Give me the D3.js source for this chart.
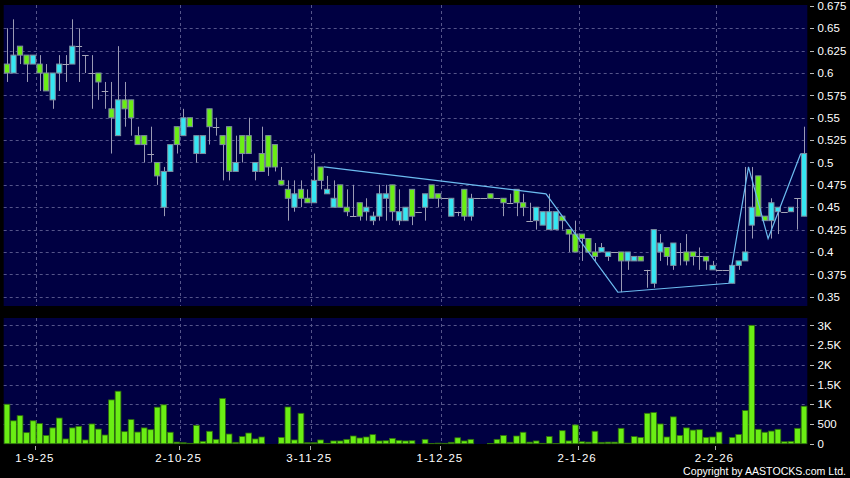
<!DOCTYPE html>
<html>
<head>
<meta charset="utf-8">
<script src="https://cdn.jsdelivr.net/npm/d3@7"></script>
<style>
html, body { margin: 0; padding: 0; background: #000; }
svg { display: block; }
text { font-family: "Liberation Sans", Arial, sans-serif; fill: #fff; }
</style>
</head>
<body>
<script>
// daily prices, oldest first (one entry per trading day)
const openP = [
  .61, .60, .63, .62, .61, .61, .60, .57, .60, .61,
  .61, .63, .62, .60, .60, .58, .56, .53, .57, .57,
  .53, .53, .51, .50, .45, .49, .54, .53, .55, .51,
  .51, .56, .54, .53, .54, .49, .53, .53, .49, .51,
  .53, .52, .48, .47, .45, .47, .46, .455, .495, .465,
  .45, .475, .45, .44, .455, .445, .435, .44, .46, .475,
  .435, .435, .47, .445, .45, .475, .465, .46, .44, .445,
  .47, .44, .46, .46, .465, .46, .46, .455, .47, .455,
  .435, .435, .43, .425, .425, .44, .425, .42, .42, .415,
  .40, .40, .395, .40, .40, .39, .39, .395, .38, .365,
  .40, .405, .385, .40, .40, .40, .395, .395, .38, .38,
  .38, .365, .385, .39, .43, .485, .44, .435, .445, .445,
  .445, .46, .44
];
const highP = [
  .65, .66, .63, .62, .62, .62, .61, .60, .62, .62,
  .66, .65, .62, .62, .60, .59, .59, .63, .59, .57,
  .54, .53, .54, .50, .495, .52, .54, .56, .55, .53,
  .53, .56, .55, .53, .54, .53, .53, .55, .50, .54,
  .53, .52, .495, .48, .48, .48, .47, .51, .495, .485,
  .48, .475, .47, .475, .455, .46, .445, .475, .475, .475,
  .47, .45, .47, .445, .465, .475, .465, .46, .46, .445,
  .47, .465, .46, .46, .465, .46, .46, .465, .47, .465,
  .455, .45, .445, .465, .445, .44, .425, .435, .42, .415,
  .41, .41, .40, .40, .40, .40, .395, .395, .38, .425,
  .42, .405, .41, .41, .42, .40, .405, .395, .39, .38,
  .38, .385, .39, .495, .495, .485, .44, .46, .45, .445,
  .45, .46, .54
];
const lowP = [
  .59, .60, .61, .59, .61, .58, .58, .56, .58, .59,
  .61, .59, .60, .56, .57, .56, .51, .53, .54, .53,
  .52, .50, .50, .475, .44, .49, .51, .53, .54, .50,
  .51, .52, .53, .48, .48, .49, .50, .51, .48, .49,
  .485, .49, .475, .435, .445, .45, .455, .455, .47, .465,
  .45, .45, .44, .44, .435, .435, .43, .435, .435, .435,
  .43, .435, .43, .445, .435, .46, .45, .46, .44, .44,
  .435, .435, .46, .46, .46, .46, .44, .455, .44, .44,
  .435, .425, .43, .425, .425, .425, .40, .40, .39, .40,
  .39, .40, .39, .40, .355, .38, .39, .39, .36, .36,
  .39, .385, .38, .385, .385, .385, .38, .38, .38, .38,
  .38, .365, .38, .39, .415, .44, .435, .415, .42, .445,
  .445, .425, .44
];
const closeP = [
  .60, .62, .62, .61, .62, .60, .58, .60, .61, .61,
  .63, .63, .62, .60, .59, .58, .55, .57, .56, .55,
  .52, .52, .51, .485, .49, .52, .52, .55, .54, .53,
  .53, .54, .54, .52, .49, .50, .51, .51, .50, .49,
  .495, .495, .475, .46, .465, .46, .455, .48, .48, .47,
  .46, .45, .445, .44, .44, .45, .44, .465, .465, .445,
  .445, .45, .44, .445, .465, .46, .46, .46, .46, .445,
  .44, .46, .46, .46, .46, .46, .455, .455, .455, .45,
  .435, .45, .445, .445, .445, .435, .42, .40, .415, .40,
  .395, .405, .40, .40, .39, .40, .395, .39, .38, .425,
  .41, .395, .41, .40, .39, .395, .395, .39, .385, .38,
  .38, .385, .39, .40, .45, .44, .435, .455, .45, .445,
  .45, .46, .51
];
const volume = [
  1000, 580, 710, 280, 580, 510, 210, 400, 650, 120,
  400, 440, 95, 500, 370, 220, 1110, 1330, 305, 610,
  295, 400, 355, 925, 985, 290, 40, 25, 10, 465,
  60, 315, 110, 1145, 245, 35, 180, 270, 120, 170,
  0, 0, 160, 930, 95, 770, 25, 25, 95, 10,
  70, 70, 110, 195, 145, 170, 230, 70, 75, 135,
  85, 70, 75, 0, 110, 5, 15, 10, 35, 150,
  70, 110, 0, 0, 5, 110, 210, 35, 195, 290,
  40, 70, 10, 180, 5, 330, 70, 475, 50, 40,
  315, 35, 40, 40, 390, 15, 180, 160, 770, 790,
  500, 170, 680, 210, 400, 345, 355, 160, 170, 295,
  0, 160, 235, 840, 3000, 365, 290, 320, 365, 50,
  60, 390, 950
];

// date labels and the day they fall on
const dateLabels = ['1-9-25', '2-10-25', '3-11-25', '1-12-25', '2-1-26', '2-2-26'];
const dateIdx = [5, 27, 47, 67, 88, 109];

const priceTicks = [0.675, 0.65, 0.625, 0.6, 0.575, 0.55, 0.525, 0.5, 0.475, 0.45, 0.425, 0.4, 0.375, 0.35];
const volTicks = [0, 500, 1000, 1500, 2000, 2500, 3000];
const volTickLabels = ['0', '500', '1K', '1.5K', '2K', '2.5K', '3K'];

// zigzag pivots (day, price)
const zigIdx = [49, 83, 94, 111, 114, 117, 122];
const zigVal = [0.495, 0.465, 0.355, 0.365, 0.495, 0.415, 0.51];

const W = 850, H = 478;
const svg = d3.select('body').append('svg').attr('width', W).attr('height', H);
svg.append('rect').attr('width', W).attr('height', H).attr('fill', '#000');

const days = d3.range(openP.length);
const x = d3.scaleBand().domain(days).range([3.7, 807.3]);
const step = x.step();
const cx = (i) => x(i) + step / 2;

const yP = d3.scaleLinear().domain([0.35, 0.675]).range([296.7, 5.9]);
const yV = d3.scaleLinear().domain([0, 3000]).range([443.7, 325.3]);

const navy = '#000042';
const gridCol = '#55558a';
const upCol = '#35e6f2';
const downCol = '#6aee14';

//panels
svg.append('rect').attr('x', 3.7).attr('y', 5).attr('width', 803.6).attr('height', 301).attr('fill', navy);
svg.append('rect').attr('x', 3.7).attr('y', 318).attr('width', 803.6).attr('height', 126).attr('fill', navy);

//horizontal grid
svg.append('g').selectAll('line')
  .data(priceTicks.filter((t) => t < 0.67))
  .enter().append('line')
  .attr('x1', 3.7).attr('x2', 807.3)
  .attr('y1', (d) => Math.round(yP(d)) + 0.5)
  .attr('y2', (d) => Math.round(yP(d)) + 0.5)
  .attr('stroke', gridCol).attr('stroke-dasharray', '3,3');

svg.append('g').selectAll('line')
  .data(volTicks.filter((t) => t > 0))
  .enter().append('line')
  .attr('x1', 3.7).attr('x2', 807.3)
  .attr('y1', (d) => Math.round(yV(d)) + 0.5)
  .attr('y2', (d) => Math.round(yV(d)) + 0.5)
  .attr('stroke', gridCol).attr('stroke-dasharray', '3,3');

//vertical grid in both panels
[[5, 306], [318, 444]].forEach((r) => {
  svg.append('g').selectAll('line')
    .data(dateIdx)
    .enter().append('line')
    .attr('x1', (d) => Math.round(x(d)) + 0.5)
    .attr('x2', (d) => Math.round(x(d)) + 0.5)
    .attr('y1', r[0]).attr('y2', r[1])
    .attr('stroke', gridCol).attr('stroke-dasharray', '3,3');
});

//wicks
svg.append('g').selectAll('line')
  .data(days.filter((i) => highP[i] > lowP[i]))
  .enter().append('line')
  .attr('x1', (i) => Math.round(cx(i)) + 0.5)
  .attr('x2', (i) => Math.round(cx(i)) + 0.5)
  .attr('y1', (i) => yP(highP[i]))
  .attr('y2', (i) => yP(lowP[i]))
  .attr('stroke', '#9a9ab4').attr('stroke-width', 1);

//doji days drawn as flat bars
svg.append('g').selectAll('line')
  .data(days.filter((i) => openP[i] === closeP[i]))
  .enter().append('line')
  .attr('x1', (i) => x(i))
  .attr('x2', (i) => x(i) + step)
  .attr('y1', (i) => Math.round(yP(closeP[i])) + 0.5)
  .attr('y2', (i) => Math.round(yP(closeP[i])) + 0.5)
  .attr('stroke', '#a6a6b8');

//candle bodies
svg.append('g').selectAll('rect')
  .data(days.filter((i) => openP[i] !== closeP[i]))
  .enter().append('rect')
  .attr('x', (i) => cx(i) - 2.6)
  .attr('width', 5.2)
  .attr('y', (i) => yP(Math.max(openP[i], closeP[i])))
  .attr('height', (i) => Math.abs(yP(openP[i]) - yP(closeP[i])))
  .attr('fill', (i) => (closeP[i] > openP[i] ? upCol : downCol))
  .attr('stroke', '#7f8ea0').attr('stroke-width', 1);

//zigzag
const zig = d3.line()
  .x((d) => x(d[0]))
  .y((d) => yP(d[1]));
svg.append('path')
  .datum(zigIdx.map((d, k) => [d, zigVal[k]]))
  .attr('d', zig)
  .attr('fill', 'none')
  .attr('stroke', '#6cbcf0').attr('stroke-width', 1.2);

//volume bars
svg.append('g').selectAll('rect')
  .data(days.filter((i) => volume[i] > 0))
  .enter().append('rect')
  .attr('x', (i) => x(i) + 0.4)
  .attr('width', step - 0.8)
  .attr('y', (i) => yV(volume[i]))
  .attr('height', (i) => yV(0) - yV(volume[i]))
  .attr('fill', '#6aee14')
  .attr('stroke', '#2f6e0c').attr('stroke-width', 0.8);

//right axes
const axisText = (ticks, labels, scale) => {
  const g = svg.append('g');
  g.selectAll('line').data(ticks).enter().append('line')
    .attr('x1', 810).attr('x2', 814)
    .attr('y1', (d) => Math.round(scale(d)) + 0.5)
    .attr('y2', (d) => Math.round(scale(d)) + 0.5)
    .attr('stroke', '#bbb');
  g.selectAll('text').data(ticks).enter().append('text')
    .attr('x', 817.5)
    .attr('y', (d) => scale(d) + 4.2)
    .attr('font-size', 11.5)
    .text((d, k) => labels[k]);
};
axisText(priceTicks, priceTicks.map(String), yP);
axisText(volTicks, volTickLabels, yV);

//date axis
svg.append('g').selectAll('line')
  .data(dateIdx)
  .enter().append('line')
  .attr('x1', (d) => Math.round(x(d)) - 0.5)
  .attr('x2', (d) => Math.round(x(d)) - 0.5)
  .attr('y1', 446).attr('y2', 450)
  .attr('stroke', '#aaa');

svg.append('g').selectAll('text')
  .data(dateIdx)
  .enter().append('text')
  .attr('x', (d) => x(d) - 1.5)
  .attr('y', 461.5)
  .attr('text-anchor', 'middle')
  .attr('font-size', 11.5)
  .attr('letter-spacing', 1)
  .text((d, k) => dateLabels[k]);

svg.append('text')
  .attr('x', 846).attr('y', 474.5)
  .attr('text-anchor', 'end')
  .attr('font-size', 10.6)
  .text('Copyright by AASTOCKS.com Ltd.');
</script>
</body>
</html>
